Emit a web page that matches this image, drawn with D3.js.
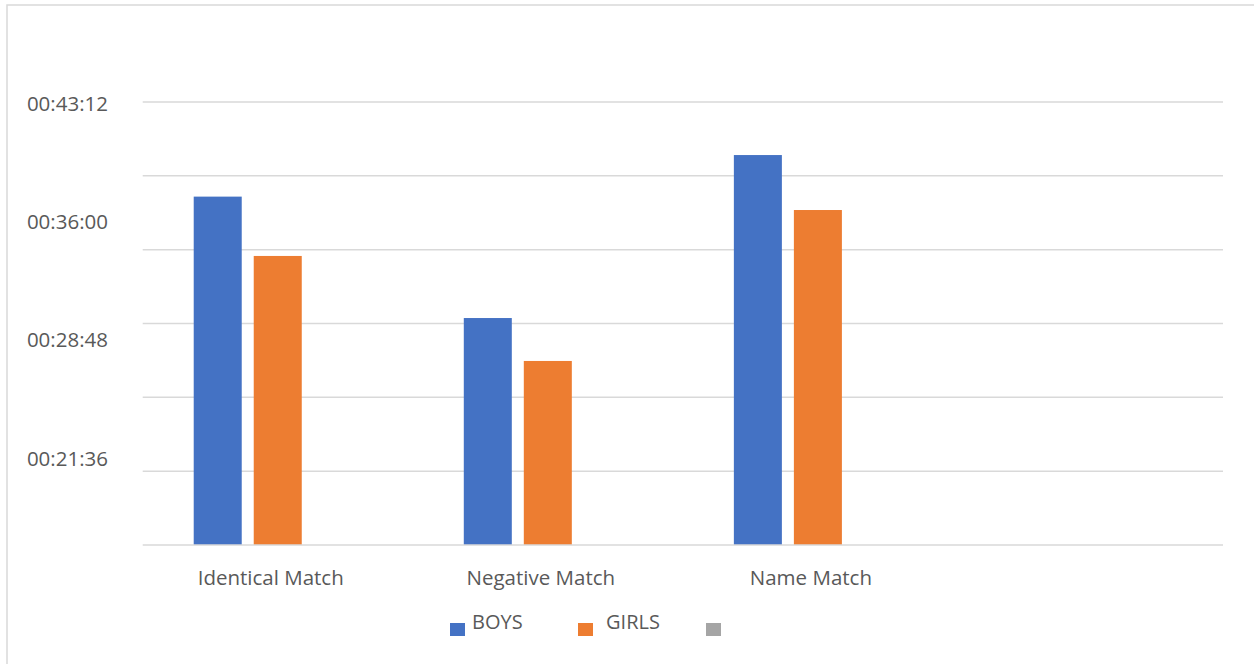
<!doctype html>
<html>
  <head>
    <meta charset="utf-8">
    <title>Match times: boys vs girls</title>
    <script src="https://cdnjs.cloudflare.com/ajax/libs/d3/7.8.5/d3.min.js"></script>
    <style>
      body { margin: 0; background: #fff; }
      svg { display: block; font-family: "Open Sans", sans-serif; }
    </style>
  </head>
  <body>
    <div id="chart"></div>
    <script>
      // data (mm:ss durations)
      const categories = ['Identical Match', 'Negative Match', 'Name Match', ''];
      const seriesNames = ['BOYS', 'GIRLS', ''];
      const seriesColors = ['#4472c4', '#ed7d31', '#a5a5a5'];
      const boys = ['00:37:26', '00:30:02', '00:39:58'];
      const girls = ['00:33:49', '00:27:25', '00:36:37'];
      const third = [];
      const tickLabels = ['00:21:36', '00:28:48', '00:36:00', '00:43:12'];

      const toSec = s => { const p = s.split(':').map(Number); return p[0] * 3600 + p[1] * 60 + p[2]; };
      const fmt = v => {
        const h = Math.floor(v / 3600), m = Math.floor(v % 3600 / 60), s = v % 60;
        return [h, m, s].map(d => String(d).padStart(2, '0')).join(':');
      };

      const width = 1254, height = 664;
      const plotLeft = 142.7, plotRight = 1223, plotBottom = 545, plotTop = 102;

      const svg = d3.select('#chart').append('svg')
        .attr('width', width).attr('height', height);

      // outer chart border
      svg.append('rect')
        .attr('x', 7).attr('y', 5).attr('width', 1270).attr('height', 680)
        .attr('fill', 'none').attr('stroke', '#d9d9d9').attr('stroke-width', 1.5);

      // axis starts at 00:16:12, gridlines every 4:30
      const y = d3.scaleLinear().domain([972, 2592]).range([plotBottom, plotTop]);
      const x0 = d3.scaleBand().domain(categories).range([plotLeft, plotRight]);
      const x1 = d3.scaleBand().domain(d3.range(seriesNames.length))
        .range([0, x0.bandwidth()]).paddingInner(0.2).paddingOuter(0.85);

      svg.append('g').selectAll('line')
        .data(d3.range(972 + 270, 2593, 270))
        .join('line')
        .attr('x1', plotLeft).attr('x2', plotRight)
        .attr('y1', d => y(d)).attr('y2', d => y(d))
        .attr('stroke', '#d9d9d9').attr('stroke-width', 1.5);

      svg.append('g').selectAll('text')
        .data(tickLabels.map(toSec))
        .join('text')
        .attr('x', 108).attr('y', d => y(d) + 2)
        .attr('dy', '0.35em')
        .attr('text-anchor', 'end')
        .attr('fill', '#595959').attr('font-size', 20.5)
        .text(fmt);

      const series = [boys, girls, third];
      series.forEach((vals, i) => {
        svg.append('g').selectAll('rect')
          .data(vals.map((v, j) => ({ cat: categories[j], v: toSec(v) })))
          .join('rect')
          .attr('x', d => x0(d.cat) + x1(i))
          .attr('width', x1.bandwidth())
          .attr('y', d => y(d.v))
          .attr('height', d => plotBottom - y(d.v))
          .attr('fill', seriesColors[i]);
      });

      // baseline
      svg.append('line')
        .attr('x1', plotLeft).attr('x2', plotRight)
        .attr('y1', plotBottom).attr('y2', plotBottom)
        .attr('stroke', '#d9d9d9').attr('stroke-width', 1.5);

      svg.append('g').selectAll('text')
        .data(categories)
        .join('text')
        .attr('x', d => x0(d) + x0.bandwidth() / 2 - 7)
        .attr('y', 585)
        .attr('text-anchor', 'middle')
        .attr('fill', '#595959').attr('font-size', 20.5)
        .text(d => d);

      // legend
      const legendX = [450, 578, 706];
      const legendTextDx = [22, 28, 28];
      const legend = svg.append('g').selectAll('g')
        .data(seriesNames)
        .join('g')
        .attr('transform', (d, i) => `translate(${legendX[i]},623)`);
      legend.append('rect')
        .attr('width', 15).attr('height', 13)
        .attr('fill', (d, i) => seriesColors[i]);
      legend.append('text')
        .attr('x', (d, i) => legendTextDx[i]).attr('y', 6)
        .attr('fill', '#595959').attr('font-size', 20)
        .text(d => d);
    </script>
  </body>
</html>
